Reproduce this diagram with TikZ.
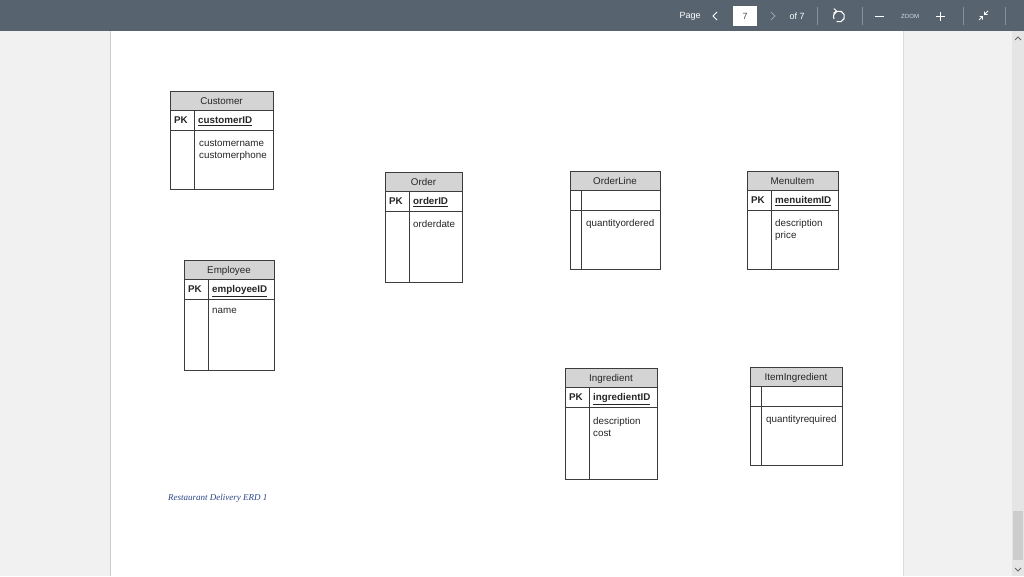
\documentclass[tikz,border=0pt]{standalone}
\usepackage{fontspec}
\setmainfont{Liberation Sans}
\newfontfamily\capfont{Liberation Serif}
\usetikzlibrary{arrows.meta}
\definecolor{barcol}{HTML}{57636F}
\definecolor{sidecol}{HTML}{F1F1F1}
\definecolor{edgecol}{HTML}{CDCDCD}
\definecolor{hdrcol}{HTML}{D4D4D4}
\definecolor{tabline}{HTML}{3C3C3C}
\definecolor{captcol}{HTML}{2A4488}
\definecolor{dimcol}{HTML}{9AA3AB}
\tikzset{
  tabtxt/.style={font=\fontsize{9.8}{12}\selectfont, inner sep=0pt, text=black!85},
  keytxt/.style={tabtxt, font=\fontsize{9.8}{12}\selectfont\bfseries},
  tabrule/.style={draw=tabline, line width=0.8pt},
  bartxt/.style={text=white, inner sep=0pt, font=\fontsize{9}{10}\selectfont},
}
% #1 name, #2 x1, #3 y1, #4 x2, #5 y2, #6 divider x, #7 title, #8 PK label, #9 key
\newcommand\erdtab[9]{%
  \fill[hdrcol] (#2,#3) rectangle (#4,#3+19);
  \draw[tabrule] (#2,#3) rectangle (#4,#5);
  \draw[tabrule] (#2,#3+19) -- (#4,#3+19);
  \draw[tabrule] (#2,#3+39) -- (#4,#3+39);
  \draw[tabrule] (#6,#3+19) -- (#6,#5);
  \node[tabtxt, anchor=base] (#1-title) at ({(#2+#4)/2},#3+13.2) {#7};
  \node[keytxt, anchor=base west] (#1-pk) at (#2+4,#3+32.5) {#8};
  \node[keytxt, anchor=base west] (#1-key) at (#6+4,#3+32.5) {\underline{#9}};
}
\begin{document}
\begin{tikzpicture}[x=1pt,y=-1pt]
\useasboundingbox (0,0) rectangle (1024,576);
% background
\fill[sidecol] (0,0) rectangle (1024,576);
\fill[white] (110,31) rectangle (903,576);
\draw[edgecol, line width=1pt] (110.5,31) -- (110.5,576);
\draw[edgecol!70, line width=1pt] (903.5,31) -- (903.5,576);
% scrollbar
\fill[sidecol!95!black] (1012,31) rectangle (1024,576);
\fill[edgecol] (1013,511) rectangle (1023,560);
\draw[gray!80!black, line width=0.8pt] (1015,40) -- (1018,37) -- (1021,40);
\draw[gray!80!black, line width=0.8pt] (1015,568) -- (1018,571) -- (1021,568);
% toolbar
\fill[barcol] (0,0) rectangle (1024,31);
\node[bartxt] (pg) at (690,16) {Page};
\draw[white, line width=1pt] (717,12) -- (713,16) -- (717,20);
\fill[white] (733,6) rectangle (757,26);
\node[inner sep=0pt, text=black!70, font=\fontsize{9}{10}\selectfont] (pgnum) at (745,16) {7};
\draw[dimcol, line width=1pt] (771,12) -- (775,16) -- (771,20);
\node[bartxt] (ofn) at (797,16) {of 7};
\draw[barcol!70!white, line width=0.6pt] (817,7) -- (817,25);
\coordinate (rc) at (839,16.5);
\draw[white, line width=1.1pt] ([shift={(115:5.5)}]rc) arc[start angle=115, end angle=-205, radius=5.5];
\draw[white, line width=0.9pt] ([shift={(-5.5,-3.2)}]rc) -- ([shift={(-2.6,-5.6)}]rc) -- ([shift={(-5.2,-8)}]rc);
\draw[barcol!70!white, line width=0.6pt] (862,7) -- (862,25);
\draw[white, line width=1pt] (875,16) -- (884,16);
\node[inner sep=0pt, text=white!80!barcol, font=\fontsize{6}{7}\selectfont] (zm) at (910,16) {ZOOM};
\draw[white, line width=1pt] (936,16) -- (945,16) (940.5,11.5) -- (940.5,20.5);
\draw[barcol!70!white, line width=0.6pt] (963,7) -- (963,25);
\draw[white, line width=0.8pt] (979,20) -- (982.5,16.5) (979.5,16.5) -- (982.5,16.5) -- (982.5,19.5);
\draw[white, line width=0.8pt] (988,11) -- (984.5,14.5) (984.5,11.5) -- (984.5,14.5) -- (987.5,14.5);
\draw[barcol!70!white, line width=0.6pt] (1005,7) -- (1005,25);
% tables
\erdtab{cust}{170}{91}{273}{189}{194}{Customer}{PK}{customerID}
\node[tabtxt, anchor=north west, align=left] (cust-attr) at (199,139.5) {customername\\customerphone};
\erdtab{ord}{385}{172}{462}{282}{409}{Order}{PK}{orderID}
\node[tabtxt, anchor=north west, align=left] (ord-attr) at (413,220.5) {orderdate};
\erdtab{ol}{570}{171}{660}{269}{581}{OrderLine}{}{}
\node[tabtxt, anchor=north west, align=left] (ol-attr) at (586,219.5) {quantityordered};
\erdtab{mi}{747}{171}{838}{269}{771}{MenuItem}{PK}{menuitemID}
\node[tabtxt, anchor=north west, align=left] (mi-attr) at (775,219.5) {description\\price};
\erdtab{emp}{184}{260}{274}{370}{208}{Employee}{PK}{employeeID}
\node[tabtxt, anchor=north west, align=left] (emp-attr) at (212,308.5) {name};
\erdtab{ing}{565}{368}{657}{479}{589}{Ingredient}{PK}{ingredientID}
\node[tabtxt, anchor=north west, align=left] (ing-attr) at (593,417.5) {description\\cost};
\erdtab{ii}{750}{367}{842}{465}{761}{ItemIngredient}{}{}
\node[tabtxt, anchor=north west, align=left] (ii-attr) at (766,415.5) {quantityrequired};
% caption
\node[anchor=base west, inner sep=0pt, text=captcol, font=\capfont\itshape\fontsize{9}{10}\selectfont] (cap) at (168,500) {Restaurant Delivery ERD 1};
\end{tikzpicture}
\end{document}
